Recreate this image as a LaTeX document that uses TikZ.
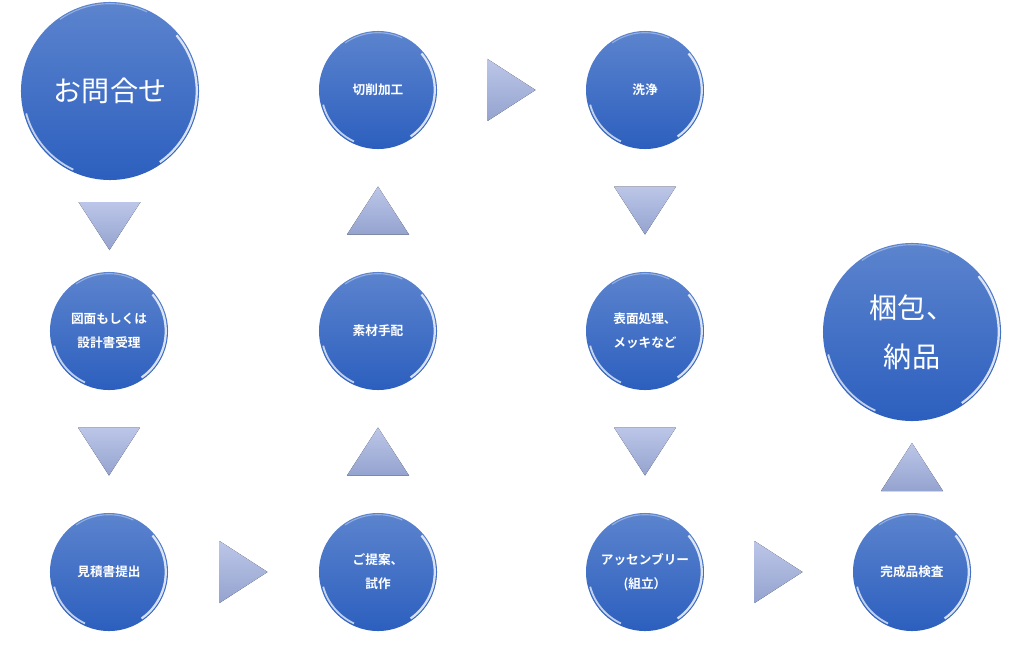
\documentclass[tikz,border=0pt]{standalone}
\usepackage{fontspec}
\newfontfamily\jpfont{Noto Sans CJK JP}[BoldFont={Noto Sans CJK JP Bold}]
\usetikzlibrary{calc}

\definecolor{balltop}{RGB}{92,132,206}
\definecolor{ballbot}{RGB}{44,95,190}
\definecolor{tritop}{RGB}{188,198,232}
\definecolor{tribot}{RGB}{148,163,207}

\tikzset{
	ball/.style={circle, inner sep=0pt, minimum size=2*#1, align=center, text=white,
		top color=balltop, bottom color=ballbot,
		path picture={
			\draw[white, line width=1.6pt, opacity=.8]
			($(path picture bounding box.center)+(40:#1-1.6pt)$) arc[start angle=40, end angle=-55, radius=#1-1.6pt];
			\draw[white, line width=1.3pt, opacity=.7]
			($(path picture bounding box.center)+(195:#1-1.6pt)$) arc[start angle=195, end angle=245, radius=#1-1.6pt];
			\draw[white, line width=.8pt, opacity=.35]
			($(path picture bounding box.center)+(125:#1-1.2pt)$) arc[start angle=125, end angle=65, radius=#1-1.2pt];
	}},
	ball/.default=1.475cm,
	smallball/.style={ball=1.475cm, font=\jpfont\bfseries\fontsize{9}{17}\selectfont},
	bigball/.style={ball=2.225cm, font=\jpfont\fontsize{20}{35}\selectfont},
	tri/.pic={\fill[top color=tritop, bottom color=tribot] (-24,-31) -- (24,0) -- (-24,31) -- cycle;}
}

\begin{document}
\begin{tikzpicture}[x=0.025cm, y=-0.025cm]
	\useasboundingbox (0,0) rectangle (1024,663);
	% circles
	\node[bigball] (ask) at (110,91) {お問合せ};
	\node[smallball] (cut) at (378,90) {切削加工};
	\node[smallball] (wash) at (645,90) {洗浄};
	\node[smallball] (recv) at (109,331) {図面もしくは\\設計書受理};
	\node[smallball] (mat) at (378,331) {素材手配};
	\node[smallball] (surf) at (645,331) {表面処理、\\メッキなど};
	\node[bigball] (pack) at (912,332) {梱包、\\納品};
	\node[smallball] (quote) at (109,572) {見積書提出};
	\node[smallball] (proto) at (378,572) {ご提案、\\試作};
	\node[smallball] (assy) at (645,572) {アッセンブリー\\(組立）};
	\node[smallball] (insp) at (912,572) {完成品検査};
	% triangles
	\pic[rotate=-90] at ($(ask.south)!.5!(recv.north)$) {tri};
	\pic[rotate=-90] at ($(recv.south)!.5!(quote.north)$) {tri};
	\pic at ($(quote.east)!.5!(proto.west)$) {tri};
	\pic[rotate=90] at ($(proto.north)!.5!(mat.south)$) {tri};
	\pic[rotate=90] at ($(mat.north)!.5!(cut.south)$) {tri};
	\pic at ($(cut.east)!.5!(wash.west)$) {tri};
	\pic[rotate=-90] at ($(wash.south)!.5!(surf.north)$) {tri};
	\pic[rotate=-90] at ($(surf.south)!.5!(assy.north)$) {tri};
	\pic at ($(assy.east)!.5!(insp.west)$) {tri};
	\pic[rotate=90] at ($(insp.north)!.5!(pack.south)$) {tri};
\end{tikzpicture}
\end{document}
